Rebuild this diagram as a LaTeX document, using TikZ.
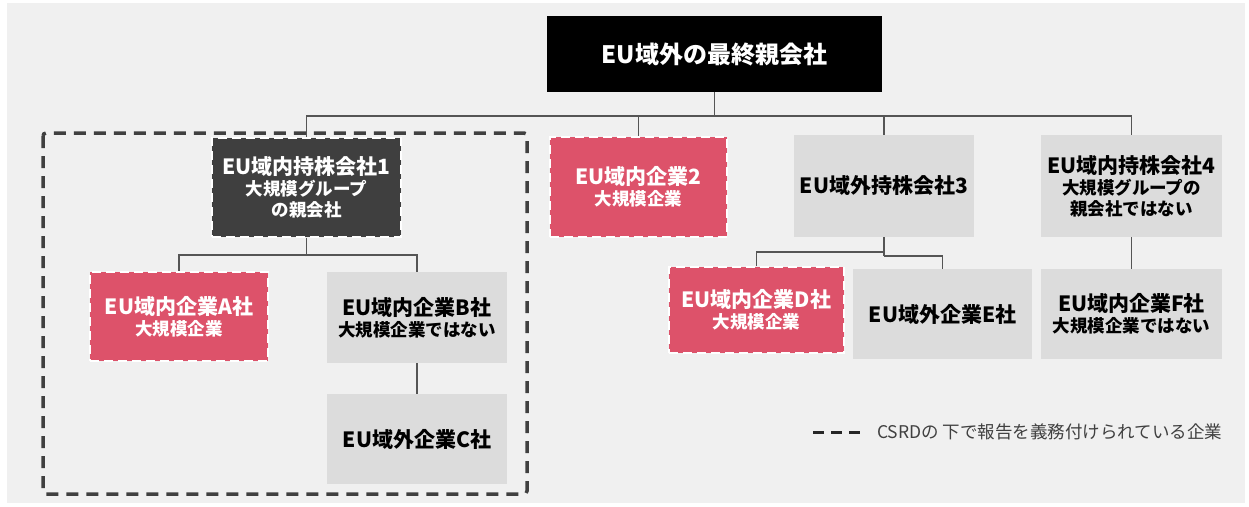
\documentclass[tikz,border=0pt]{standalone}
\usepackage{fontspec}
\setmainfont{Noto Sans CJK JP}
\definecolor{bgc}{HTML}{F0F0F0}
\definecolor{pinkc}{HTML}{DD526A}
\definecolor{darkc}{HTML}{3F3F3F}
\definecolor{grayc}{HTML}{DCDCDC}
\definecolor{linec}{HTML}{555555}
\definecolor{legc}{HTML}{404040}
\newcommand{\firstline}[1]{{\fontsize{21}{21}\selectfont #1}}
\begin{document}
\begin{tikzpicture}[x=1pt,y=-1pt,
  box/.style={rectangle, inner sep=0pt, align=center, font=\bfseries\fontsize{17.5}{21}\selectfont},
  pinkbox/.style={box, fill=pinkc, draw=white, line width=2.8pt, dash pattern=on 9pt off 5pt, text=white},
  darkbox/.style={box, fill=darkc, draw=white, line width=2.8pt, dash pattern=on 9pt off 5pt, text=white},
  graybox/.style={box, fill=grayc, text=black},
  conn/.style={draw=linec, line width=1.6pt},
  region/.style={draw=legc, line width=3.5pt, dash pattern=on 12pt off 8pt, rounded corners=3pt},
  legline/.style={draw=black!85, line width=3pt, dash pattern=on 11pt off 7pt}
]
\useasboundingbox (0,0) rectangle (1249,506);
\fill[white] (0,0) rectangle (1249,506);
\fill[bgc] (7,3) rectangle (1245,503);

% top
\node[box, fill=black, text=white, minimum width=335pt, minimum height=76pt,
  font=\bfseries\fontsize{24}{28}\selectfont] (top) at (714.5,54) {EU域外の最終親会社};

% level 1
\node[darkbox, minimum width=189pt, minimum height=99pt] (h1) at (306.5,187.5)
  {\firstline{EU域内持株会社1}\\大規模グループ\\の親会社};
\node[pinkbox, minimum width=177pt, minimum height=100pt] (e2) at (638.5,187)
  {\firstline{EU域内企業2}\\大規模企業};
\node[graybox, minimum width=180pt, minimum height=102pt] (h3) at (884,186)
  {\firstline{EU域外持株会社3}};
\node[graybox, minimum width=181pt, minimum height=102pt] (h4) at (1131.5,186)
  {\firstline{EU域内持株会社4}\\大規模グループの\\親会社ではない};

% level 2
\node[pinkbox, minimum width=178pt, minimum height=89pt] (A) at (179,316.5)
  {\firstline{EU域内企業A社}\\大規模企業};
\node[graybox, minimum width=180pt, minimum height=91pt] (B) at (417,317.5)
  {\firstline{EU域内企業B社}\\大規模企業ではない};
\node[graybox, minimum width=180pt, minimum height=90pt] (C) at (417,439)
  {\firstline{EU域外企業C社}};
\node[pinkbox, minimum width=175pt, minimum height=86pt] (D) at (756.5,310)
  {\firstline{EU域内企業D社}\\大規模企業};
\node[graybox, minimum width=179pt, minimum height=90pt] (E) at (942.5,314)
  {\firstline{EU域外企業E社}};
\node[graybox, minimum width=181pt, minimum height=90pt] (F) at (1131.5,314)
  {\firstline{EU域内企業F社}\\大規模企業ではない};

% connectors
\coordinate (bus0) at (0,116);
\coordinate (bus1) at (0,255);
\coordinate (bus2) at (0,252);
\coordinate (bus3) at (0,256);
\draw[conn] (top.south) -- (top.south |- bus0);
\draw[conn] (h1.north) |- (top.south |- bus0);
\draw[conn] (e2.north) |- (top.south |- bus0);
\draw[conn] (h3.north) |- (top.south |- bus0);
\draw[conn] (h4.north) |- (top.south |- bus0);
\draw[conn] (h1.south) -- (h1.south |- bus1);
\draw[conn] (A.north) |- (h1.south |- bus1);
\draw[conn] (B.north) |- (h1.south |- bus1);
\draw[conn] (B.south) -- (C.north);
\draw[conn] (h3.south) -- (h3.south |- bus3);
\draw[conn] (D.north) |- (h3.south |- bus2);
\draw[conn] (E.north) |- (h3.south |- bus3);
\draw[conn] (h4.south) -- (F.north);

% CSRD region
\coordinate (r1) at (43,133);
\coordinate (r2) at (527,494);
\draw[region] (r1) rectangle (r2);

% legend
\coordinate (l1) at (813,432);
\coordinate (l2) at (861,432);
\draw[legline] (l1) -- (l2);
\node[anchor=west, inner sep=0pt, text=legc, font=\fontsize{17.5}{20}\selectfont] (leg) at (877,432)
  {CSRDの 下で報告を義務付けられている企業};
\end{tikzpicture}
\end{document}
